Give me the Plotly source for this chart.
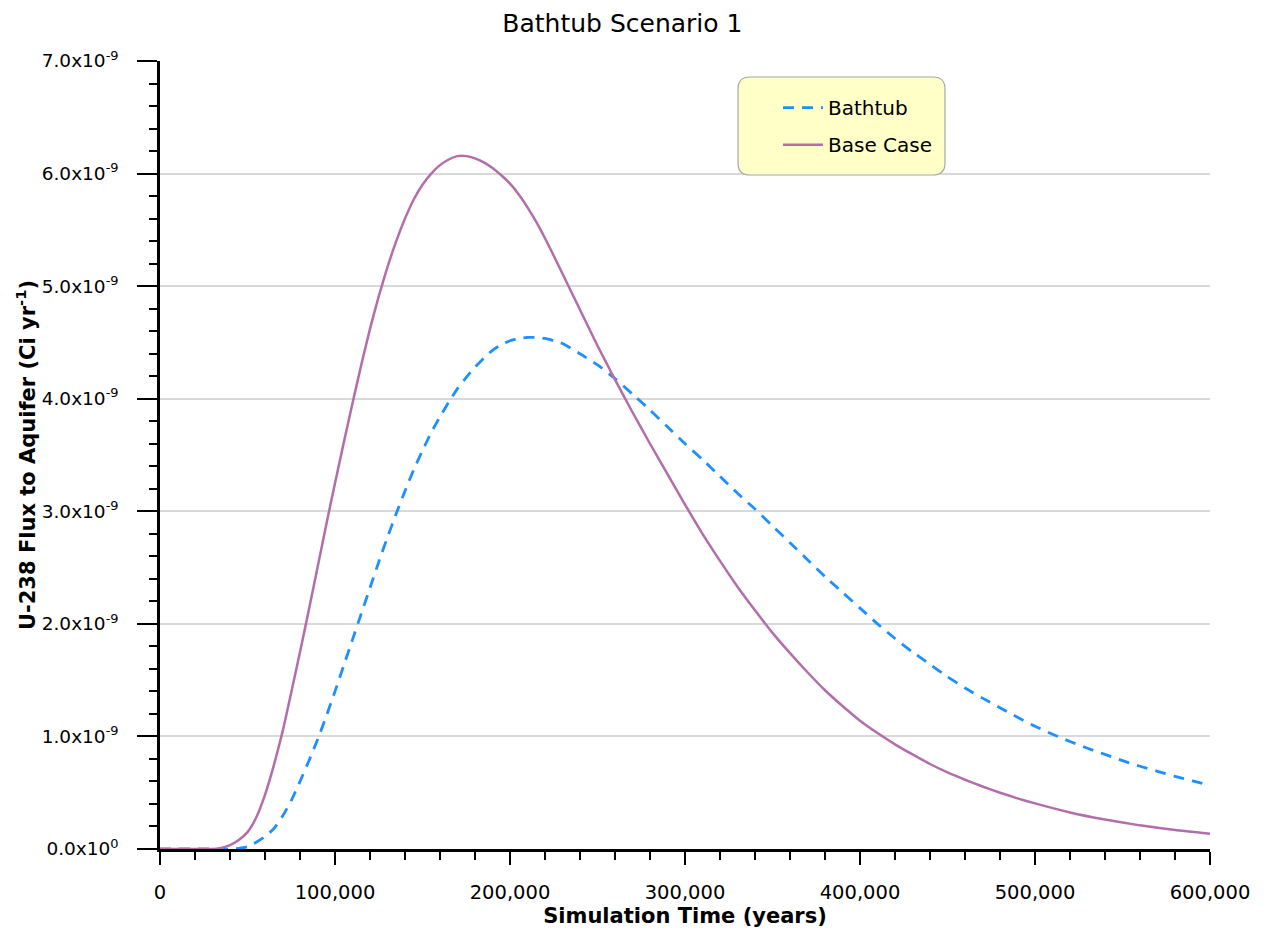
import plotly.graph_objects as go

# Simulation time (years)
time_base = [0, 10000, 20000, 30000, 35000, 40000, 45000, 50000, 55000, 60000, 65000,
             70000, 75000, 80000, 85000, 90000, 95000, 100000, 105000, 110000, 115000,
             120000, 125000, 130000, 135000, 140000, 145000, 150000, 155000, 160000,
             165000, 170000, 175000, 180000, 185000, 190000, 195000, 200000, 205000,
             210000, 215000, 220000, 225000, 230000, 235000, 240000, 245000, 250000,
             255000, 260000, 270000, 280000, 290000, 300000,
             310000, 320000, 330000, 340000, 350000, 360000, 370000, 380000, 390000,
             400000, 410000, 420000, 430000, 440000, 450000, 460000, 470000, 480000,
             490000, 500000, 520000, 540000, 560000, 580000, 600000]
# Base Case flux (x1e-9 Ci/yr)
flux_base = [0, 0, 0, 0, 0.01, 0.035, 0.08, 0.15, 0.28, 0.48, 0.74,
             1.04, 1.39, 1.75, 2.12, 2.50, 2.88, 3.25, 3.61, 3.96, 4.30,
             4.62, 4.91, 5.17, 5.40, 5.60, 5.77, 5.90, 6.00, 6.075,
             6.125, 6.155, 6.155, 6.135, 6.10, 6.05, 5.985, 5.91, 5.815,
             5.70, 5.57, 5.425, 5.27, 5.11, 4.95, 4.79, 4.63, 4.47,
             4.32, 4.17, 3.88, 3.60, 3.33, 3.06,
             2.80, 2.56, 2.33, 2.12, 1.92, 1.74, 1.57, 1.41, 1.27,
             1.14, 1.03, 0.93, 0.84, 0.755, 0.68, 0.615, 0.555, 0.50,
             0.45, 0.405, 0.325, 0.262, 0.21, 0.168, 0.135]

time_bath = [0, 10000, 20000, 30000, 40000, 45000, 50000, 55000, 60000, 65000, 70000,
             75000, 80000, 85000, 90000, 95000, 100000, 105000, 110000, 115000, 120000,
             125000, 130000, 135000, 140000, 145000, 150000, 155000, 160000, 165000,
             170000, 175000, 180000, 185000, 190000, 195000, 200000, 205000, 210000,
             215000, 220000, 225000, 230000, 240000, 250000, 260000, 270000, 280000,
             290000, 300000, 310000, 320000, 330000, 340000, 350000, 360000, 370000,
             380000, 390000, 400000, 410000, 420000, 430000, 440000, 450000, 460000,
             470000, 480000, 490000, 500000, 510000, 520000, 530000, 540000, 550000,
             560000, 570000, 580000, 590000, 600000]
# Bathtub flux (x1e-9 Ci/yr)
flux_bath = [0, 0, 0, 0, 0, 0.005, 0.02, 0.06, 0.11, 0.18, 0.29,
             0.43, 0.60, 0.78, 0.97, 1.18, 1.40, 1.63, 1.86, 2.09, 2.32,
             2.55, 2.77, 2.98, 3.18, 3.37, 3.54, 3.70, 3.84, 3.97,
             4.09, 4.19, 4.28, 4.36, 4.43, 4.48, 4.515, 4.535, 4.545,
             4.545, 4.535, 4.515, 4.49, 4.40, 4.30, 4.18, 4.04, 3.90,
             3.75, 3.60, 3.46, 3.31, 3.16, 3.02, 2.87, 2.72, 2.57,
             2.42, 2.28, 2.14, 2.00, 1.87, 1.75, 1.64, 1.53, 1.43,
             1.34, 1.255, 1.17, 1.09, 1.02, 0.955, 0.895, 0.84, 0.785,
             0.735, 0.69, 0.645, 0.605, 0.565]

y_tick_vals = [0, 1, 2, 3, 4, 5, 6, 7]
y_tick_text = ["0.0x10<sup>0</sup>", "1.0x10<sup>-9</sup>", "2.0x10<sup>-9</sup>",
               "3.0x10<sup>-9</sup>", "4.0x10<sup>-9</sup>", "5.0x10<sup>-9</sup>",
               "6.0x10<sup>-9</sup>", "7.0x10<sup>-9</sup>"]
x_tick_vals = [0, 100000, 200000, 300000, 400000, 500000, 600000]

FONT = "DejaVu Sans"

fig = go.Figure()
fig.add_trace(go.Scatter(x=time_bath, y=[v * 1e-9 for v in flux_bath], mode="lines",
                         name="Bathtub", legendgroup="a",
                         line=dict(color="#1E8FFF", width=2.8, dash="11px,8px",
                                   shape="spline", smoothing=0.5)))
fig.add_trace(go.Scatter(x=time_base, y=[v * 1e-9 for v in flux_base], mode="lines",
                         name="Base Case", legendgroup="b",
                         line=dict(color="#B36DAA", width=2.5,
                                   shape="spline", smoothing=0.5)))

# rounded legend box (paper coords)
x0, x1, y0, y1 = 0.5505, 0.7476, 0.8553, 0.9797
rx, ry = 12 / 1050, 12 / 788
path = (f"M {x0+rx},{y0} L {x1-rx},{y0} Q {x1},{y0} {x1},{y0+ry} "
        f"L {x1},{y1-ry} Q {x1},{y1} {x1-rx},{y1} L {x0+rx},{y1} "
        f"Q {x0},{y1} {x0},{y1-ry} L {x0},{y0+ry} Q {x0},{y0} {x0+rx},{y0} Z")
fig.add_shape(type="path", path=path, xref="paper", yref="paper",
              fillcolor="#FFFFC8", line=dict(color="#A8A8A8", width=1.2), layer="above")

fig.update_layout(
    width=1259, height=933,
    margin=dict(l=152, r=57, t=53, b=92, autoexpand=False),
    paper_bgcolor="white", plot_bgcolor="white",
    font=dict(family=FONT, size=19.5, color="black"),
    title=dict(text="Bathtub Scenario 1", x=0.488, xref="container", xanchor="center",
               y=0.984, yref="container", yanchor="middle",
               font=dict(family=FONT, size=25, color="black")),
    showlegend=True,
    legend=dict(x=0.5886, y=0.9655, xanchor="left", yanchor="top",
                bgcolor="rgba(0,0,0,0)", borderwidth=0,
                font=dict(family=FONT, size=20, color="black"),
                itemwidth=40, tracegroupgap=8, traceorder="grouped"),
    xaxis=dict(range=[0, 600000], tickvals=x_tick_vals, tickformat=",d",
               showgrid=False, zeroline=False, automargin=False,
               showline=True, linecolor="black", linewidth=2.5,
               ticks="outside", ticklen=13, tickwidth=2, tickcolor="black",
               ticklabelstandoff=11,
               minor=dict(dtick=20000, ticks="outside", ticklen=8, tickwidth=2,
                          tickcolor="black", showgrid=False),
               tickfont=dict(family=FONT, size=19.5),
               title=dict(text="<b>Simulation Time (years)</b>",
                          font=dict(family=FONT, size=21), standoff=4)),
    yaxis=dict(range=[0, 7e-9], tickvals=[v * 1e-9 for v in y_tick_vals],
               ticktext=y_tick_text, automargin=False,
               showgrid=True, gridcolor="#D9D9D9", gridwidth=1.5, zeroline=False,
               showline=True, linecolor="black", linewidth=2.5,
               ticks="outside", ticklen=20, tickwidth=2, tickcolor="black",
               ticklabelstandoff=15,
               minor=dict(dtick=0.2e-9, ticks="outside", ticklen=8, tickwidth=2,
                          tickcolor="black", showgrid=False),
               tickfont=dict(family=FONT, size=18.5),
               title=dict(text="<b>U-238 Flux to Aquifer (Ci yr<sup>-1</sup>)</b>",
                          font=dict(family=FONT, size=21), standoff=1)),
)

fig.write_html("out.html")
